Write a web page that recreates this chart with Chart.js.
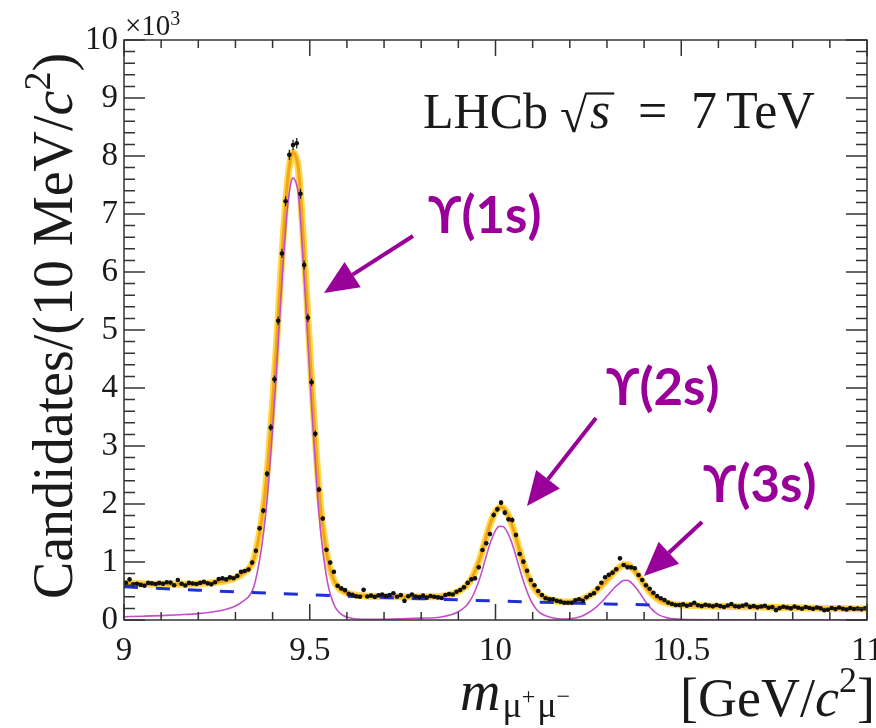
<!DOCTYPE html>
<html>
<head>
<meta charset="utf-8">
<script src="https://cdn.jsdelivr.net/npm/chart.js@4.4.0/dist/chart.umd.min.js"></script>
<style>
  body { margin: 0; background: #fff; }
  #wrap { width: 876px; height: 728px; }
</style>
</head>
<body>
<div id="wrap"><canvas id="graph"></canvas></div>
<script>
// Dimuon mass spectrum, 10 MeV bins from 9 to 11 GeV (bin centres 9.005, 9.015, ...)
const binStart = 9.005;
const binWidth = 0.01;
const candidates = [
  640, 700, 615, 625, 605, 590, 640, 632, 620, 640,
  625, 650, 645, 600, 690, 625, 595, 640, 630, 620,
  640, 660, 632, 615, 650, 705, 718, 700, 735, 720,
  760, 830, 845, 870, 990, 1195, 1580, 1885, 2520, 3320,
  4150, 5160, 6320, 7220, 8020, 8190, 8220, 7350, 6120, 5210,
  4100, 3210, 2250, 1750, 1210, 990, 830, 590, 545, 515,
  450, 435, 410, 400, 520, 405, 420, 398, 425, 440,
  415, 430, 460, 402, 430, 330, 410, 440, 405, 395,
  420, 385, 415, 400, 390, 380, 431, 448, 440, 488,
  517, 563, 640, 700, 718, 908, 1207, 1322, 1483, 1810,
  1908, 2023, 1851, 1736, 1724, 1466, 1138, 1006, 850, 690,
  600, 500, 430, 374, 357, 357, 330, 316, 298, 298,
  298, 340, 357, 333, 391, 431, 460, 546, 643, 736,
  780, 816, 874, 1063, 948, 908, 908, 891, 776, 690,
  600, 540, 471, 414, 374, 345, 300, 276, 259, 259,
  270, 245, 265, 298, 255, 240, 262, 250, 235, 258,
  240, 225, 250, 276, 238, 230, 245, 268, 226, 240,
  218, 232, 245, 210, 222, 170, 205, 228, 215, 200,
  232, 210, 195, 224, 208, 192, 215, 200, 168, 178,
  206, 188, 215, 195, 180, 205, 190, 198, 185, 202
];

// fit curves (total and signal)
const fitMass = [
  9.00, 9.05, 9.10, 9.15, 9.20, 9.25, 9.28, 9.30, 9.32, 9.34,
  9.35, 9.36, 9.37, 9.38, 9.39, 9.40, 9.41, 9.42, 9.43, 9.44,
  9.45, 9.455, 9.46, 9.47, 9.48, 9.49, 9.50, 9.51, 9.52, 9.53,
  9.54, 9.55, 9.56, 9.57, 9.58, 9.59, 9.60, 9.62, 9.65, 9.70,
  9.75, 9.80, 9.85, 9.88, 9.90, 9.92, 9.93, 9.94, 9.95, 9.96,
  9.97, 9.98, 9.99, 10.00, 10.01, 10.02, 10.03, 10.04, 10.05, 10.06,
  10.07, 10.08, 10.09, 10.10, 10.11, 10.12, 10.13, 10.15, 10.17, 10.19,
  10.21, 10.23, 10.25, 10.27, 10.29, 10.30, 10.31, 10.32, 10.33, 10.34,
  10.35, 10.36, 10.37, 10.38, 10.39, 10.40, 10.41, 10.42, 10.43, 10.44,
  10.46, 10.48, 10.50, 10.60, 10.70, 10.80, 10.90, 11.00
];
const fitTotal = [
  631, 623, 618, 618, 624, 650, 683, 726, 800, 915,
  1060, 1330, 1700, 2200, 2900, 3750, 4700, 5750, 6750, 7550,
  8000, 8060, 8030, 7750, 6850, 5800, 4650, 3600, 2650, 1900,
  1380, 1000, 770, 620, 540, 490, 460, 430, 415, 405,
  402, 400, 405, 440, 490, 580, 660, 770, 920, 1100,
  1320, 1540, 1730, 1870, 1940, 1935, 1860, 1720, 1530, 1310,
  1090, 890, 720, 590, 495, 430, 390, 345, 320, 310,
  320, 350, 410, 500, 620, 690, 760, 830, 885, 940,
  955, 940, 880, 805, 712, 615, 525, 450, 390, 345,
  295, 270, 258, 238, 224, 211, 199, 189
];
const fitSignal = [
  57, 65, 75, 90, 110, 150, 195, 240, 320, 440,
  588, 861, 1234, 1737, 2440, 3293, 4246, 5299, 6302, 7105,
  7558, 7619, 7590, 7313, 6416, 5368, 4221, 3174, 2226, 1478,
  960, 580, 352, 205, 125, 78, 50, 22, 14, 14,
  22, 32, 48, 89, 143, 237, 319, 431, 583, 765,
  987, 1209, 1400, 1542, 1614, 1611, 1538, 1399, 1211, 993,
  775, 577, 408, 280, 187, 124, 86, 44, 22, 16,
  29, 62, 125, 218, 341, 413, 485, 556, 613, 669,
  686, 672, 614, 540, 449, 353, 264, 191, 132, 89,
  41, 19, 10, 3, 0, 0, 0, 0
];

// background component (dashed)
const bkgMass = [9.0, 9.1, 9.2, 9.3, 9.4, 9.5, 9.6, 9.7, 9.8, 9.9, 10.0, 10.1, 10.2, 10.3, 10.4, 10.46];
const bkgValues = [574, 543, 514, 486, 459, 434, 410, 388, 367, 347, 328, 310, 293, 277, 262, 254];

const xTicks = [9, 9.5, 10, 10.5, 11];
const yTicks = [0, 1000, 2000, 3000, 4000, 5000, 6000, 7000, 8000, 9000, 10000];

const peakLabels = ['ϒ(1s)', 'ϒ(2s)', 'ϒ(3s)'];

const serif = '"Liberation Serif", "Times New Roman", serif';
const purple = '#990099';
const ink = '#1a1a1a';

function pts(xs, ys) {
    return xs.map((v, i) => ({ x: v, y: ys[i] }));
}

const dataPoints = candidates.map((v, i) => ({ x: binStart + i * binWidth, y: v }));

// draw a list of text pieces one after another
function drawRuns(ctx, x, y, runs) {
    let cx = x;
    runs.forEach(r => {
        ctx.font = r.font;
        ctx.fillText(r.t, cx + (r.dx || 0), y + (r.dy || 0));
        cx += ctx.measureText(r.t).width + (r.dx || 0);
    });
    return cx;
}

function runsWidth(ctx, runs) {
    let w = 0;
    runs.forEach(r => { ctx.font = r.font; w += ctx.measureText(r.t).width + (r.dx || 0); });
    return w;
}

function arrow(ctx, x1, y1, x2, y2) {
    const ang = Math.atan2(y2 - y1, x2 - x1);
    const len = 34, half = 15;
    const bx = x2 - len * Math.cos(ang), by = y2 - len * Math.sin(ang);
    ctx.beginPath();
    ctx.moveTo(x1, y1);
    ctx.lineTo(bx, by);
    ctx.stroke();
    ctx.beginPath();
    ctx.moveTo(x2, y2);
    ctx.lineTo(bx + half * Math.sin(ang), by - half * Math.cos(ang));
    ctx.lineTo(bx - half * Math.sin(ang), by + half * Math.cos(ang));
    ctx.closePath();
    ctx.fill();
}

const decorations = {
    id: 'decorations',
    afterDatasetsDraw(chart) {
        const { ctx, scales: { x, y } } = chart;
        // error bars on the data
        ctx.save();
        ctx.strokeStyle = '#111';
        ctx.lineWidth = 1.2;
        dataPoints.forEach(p => {
            const e = Math.sqrt(p.y);
            const px = x.getPixelForValue(p.x), py = y.getPixelForValue(p.y);
            ctx.beginPath();
            ctx.moveTo(px, y.getPixelForValue(p.y - e));
            ctx.lineTo(px, y.getPixelForValue(p.y + e));
            ctx.moveTo(x.getPixelForValue(p.x - binWidth / 2), py);
            ctx.lineTo(x.getPixelForValue(p.x + binWidth / 2), py);
            ctx.stroke();
        });
        ctx.restore();
    },
    afterDraw(chart) {
        const { ctx, chartArea: a, scales: { x, y } } = chart;
        ctx.save();

        // frame and ticks on all four sides
        ctx.strokeStyle = '#333';
        ctx.lineWidth = 1.5;
        ctx.strokeRect(a.left, a.top, a.right - a.left, a.bottom - a.top);
        ctx.beginPath();
        for (let k = 0; k <= 20; k++) {
            const px = x.getPixelForValue(9 + k * 0.1);
            const major = k % 5 === 0;
            ctx.moveTo(px, a.bottom); ctx.lineTo(px, a.bottom - (major ? 16 : 8));
            ctx.moveTo(px, a.top); ctx.lineTo(px, a.top + (major ? 16 : 8));
        }
        for (let k = 0; k <= 50; k++) {
            const py = y.getPixelForValue(k * 200);
            const major = k % 5 === 0;
            ctx.moveTo(a.left, py); ctx.lineTo(a.left + (major ? 21 : 11), py);
            ctx.moveTo(a.right, py); ctx.lineTo(a.right - (major ? 21 : 11), py);
        }
        ctx.stroke();

        ctx.fillStyle = ink;
        ctx.textAlign = 'left';
        ctx.textBaseline = 'alphabetic';

        // x10^3 exponent
        drawRuns(ctx, 125, 35, [
            { t: '×10', font: '29px ' + serif },
            { t: '3', font: '20px ' + serif, dy: -10 }
        ]);

        // experiment label with a square root
        ctx.font = '50px ' + serif;
        ctx.fillText('LHCb', 423, 128);
        ctx.font = '50px ' + serif;
        const rx = 560;
        ctx.fillText('√', rx, 132);
        const rm = ctx.measureText('√');
        const barY = 132 - rm.actualBoundingBoxAscent + 1.5;
        const barX = rx + rm.actualBoundingBoxRight - 1;
        ctx.font = 'italic 52px ' + serif;
        ctx.fillText('s', barX + 3, 128);
        const sEnd = barX + 3 + ctx.measureText('s').width + 4;
        ctx.lineWidth = 2.2;
        ctx.strokeStyle = ink;
        ctx.beginPath(); ctx.moveTo(barX, barY); ctx.lineTo(sEnd, barY); ctx.stroke();
        ctx.font = '52px ' + serif;
        ctx.fillText('=', 638, 128);
        ctx.fillText('7', 691, 128);
        ctx.fillText('TeV', 726, 128);

        // y axis title
        const yRuns = [
            { t: 'Candidates/(10 MeV/', font: '56px ' + serif },
            { t: 'c', font: 'italic 56px ' + serif },
            { t: '2', font: '38px ' + serif, dy: -22 },
            { t: ')', font: '56px ' + serif }
        ];
        ctx.save();
        ctx.translate(72, 326);
        ctx.rotate(-Math.PI / 2);
        drawRuns(ctx, -runsWidth(ctx, yRuns) / 2, 0, yRuns);
        ctx.restore();

        // x axis title
        drawRuns(ctx, 460, 710, [
            { t: 'm', font: 'italic 56px ' + serif },
            { t: 'μ', font: '36px ' + serif, dy: 7, dx: 2 },
            { t: '+', font: '24px ' + serif, dy: -6 },
            { t: 'μ', font: '36px ' + serif, dy: 7, dx: 2 },
            { t: '−', font: '24px ' + serif, dy: -6 }
        ]);
        const unitRuns = [
            { t: '[GeV/', font: '54px ' + serif },
            { t: 'c', font: 'italic 54px ' + serif },
            { t: '2', font: '36px ' + serif, dy: -24 },
            { t: ']', font: '54px ' + serif }
        ];
        drawRuns(ctx, 875 - runsWidth(ctx, unitRuns), 716, unitRuns);

        // peak annotations
        ctx.fillStyle = purple;
        ctx.strokeStyle = purple;
        ctx.lineWidth = 4;
        ctx.font = 'bold 51px Lato, "Open Sans", sans-serif';
        ctx.fillText(peakLabels[0], 428, 233);
        ctx.fillText(peakLabels[1], 606, 405);
        ctx.fillText(peakLabels[2], 703, 502);
        arrow(ctx, 413, 236, 324, 293);
        arrow(ctx, 596, 418, 527, 506);
        arrow(ctx, 702, 522, 644, 576);

        ctx.restore();
    }
};

const tickFont = { family: '"Liberation Serif", "Times New Roman", serif', size: 33 };

const chart = new Chart(document.getElementById('graph').getContext('2d'), {
    type: 'scatter',
    data: {
        datasets: [
            {
                label: 'Data',
                data: dataPoints,
                showLine: false,
                pointRadius: 2.3,
                pointBackgroundColor: '#111',
                pointBorderWidth: 0
            },
            {
                label: 'Background',
                data: pts(bkgMass, bkgValues),
                showLine: true,
                borderColor: '#1f2fd6',
                borderWidth: 3,
                borderDash: [14, 18],
                pointRadius: 0
            },
            {
                label: 'Signal',
                data: pts(fitMass, fitSignal),
                showLine: true,
                borderColor: '#c24fc9',
                borderWidth: 1.6,
                cubicInterpolationMode: 'monotone',
                pointRadius: 0
            },
            {
                label: 'Fit',
                data: pts(fitMass, fitTotal),
                showLine: true,
                borderColor: '#f2a516',
                borderWidth: 3,
                cubicInterpolationMode: 'monotone',
                pointRadius: 0
            },
            {
                label: 'Fit band',
                data: pts(fitMass, fitTotal),
                showLine: true,
                borderColor: '#ffd84a',
                borderWidth: 7,
                cubicInterpolationMode: 'monotone',
                pointRadius: 0
            }
        ]
    },
    options: {
        responsive: true,
        maintainAspectRatio: false,
        animation: false,
        layout: { padding: { top: 40, right: 9, left: 0, bottom: 0 } },
        plugins: {
            legend: { display: false },
            tooltip: { enabled: false }
        },
        scales: {
            x: {
                type: 'linear',
                min: 9,
                max: 11,
                afterFit: s => { s.height = 108; s.paddingLeft = 0; s.paddingRight = 0; },
                afterBuildTicks: s => { s.ticks = xTicks.map(v => ({ value: v })); },
                ticks: {
                    font: tickFont,
                    color: ink,
                    padding: 12,
                    maxRotation: 0,
                    autoSkip: false,
                    callback: v => String(v)
                },
                grid: { display: false, drawTicks: false },
                border: { display: false }
            },
            y: {
                min: 0,
                max: 10000,
                afterFit: s => { s.width = 124; s.paddingTop = 0; s.paddingBottom = 0; },
                afterBuildTicks: s => { s.ticks = yTicks.map(v => ({ value: v })); },
                ticks: {
                    font: tickFont,
                    color: ink,
                    padding: 6,
                    callback: v => String(v / 1000)
                },
                grid: { display: false, drawTicks: false },
                border: { display: false }
            }
        }
    },
    plugins: [decorations]
});
</script>
</body>
</html>
